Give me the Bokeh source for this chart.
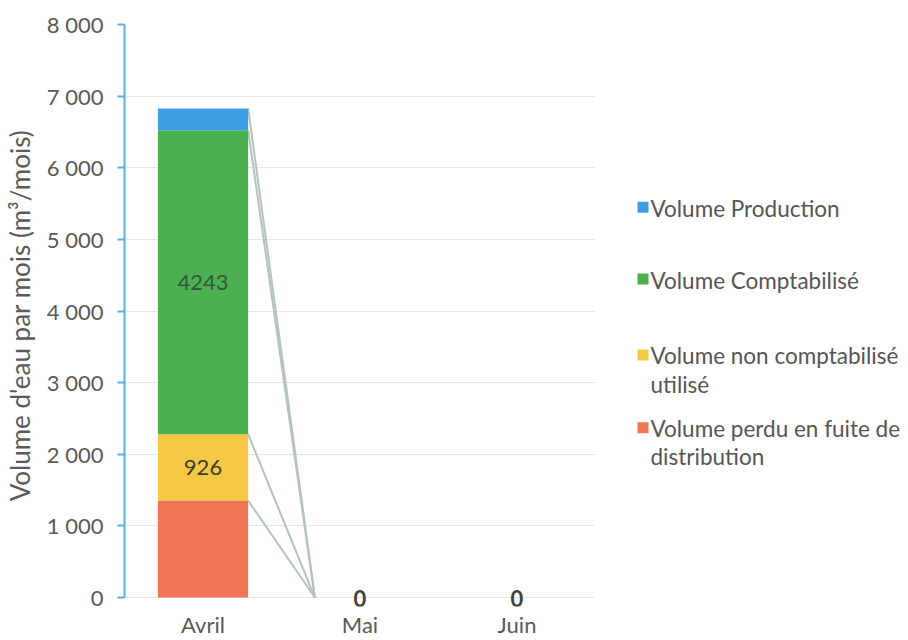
from bokeh.plotting import figure
from bokeh.models import ColumnDataSource, FactorRange, Range1d, FixedTicker, LabelSet
from bokeh.layouts import row
from bokeh.embed import file_html
from bokeh.resources import INLINE
from bokeh.core.properties import value

# ---------------- data ----------------
months = ["Avril", "Mai", "Juin"]
perdu = [1354, 0, 0]          # Volume perdu en fuite de distribution
non_compta = [926, 0, 0]      # Volume non comptabilisé utilisé
compta = [4243, 0, 0]         # Volume Comptabilisé
production = [306, 0, 0]      # Volume Production
series_keys = ["perdu", "non_compta", "compta", "production"]
series_names = ["Volume perdu en fuite de\ndistribution",
                "Volume non comptabilisé\nutilisé",
                "Volume Comptabilisé",
                "Volume Production"]
y_ticks = [0, 1000, 2000, 3000, 4000, 5000, 6000, 7000, 8000]
y_tick_labels = ["0", "1 000", "2 000", "3 000", "4 000", "5 000", "6 000", "7 000", "8 000"]
y_title = "Volume d'eau par mois (m³/mois)"

# ---------------- styles / layout ----------------
colors = ["#ef7556", "#f6c944", "#4caf50", "#3d9fe2"]
FONT = value("Lato")
TXT = "#595959"
BAR_W = 0.575
FRAME_TOP, FRAME_BOTTOM = 24, 607

data = {"month": months, "perdu": perdu, "non_compta": non_compta,
        "compta": compta, "production": production}
src = ColumnDataSource(data)

p = figure(x_range=FactorRange(*months), y_range=Range1d(-125, 8000),
           width=596, height=640, output_backend="svg", toolbar_location=None,
           min_border_left=122, min_border_right=1, min_border_top=FRAME_TOP,
           min_border_bottom=640 - FRAME_BOTTOM)
p.outline_line_color = None
p.background_fill_color = "white"
p.border_fill_color = "white"

# series lines (connect segment tops between consecutive months)
series_vals = [perdu, non_compta, compta, production]
x0, x1, y0, y1 = [], [], [], []
for i in range(len(months) - 1):
    cum_a = 0
    cum_b = 0
    for vals in series_vals:
        cum_a += vals[i]
        cum_b += vals[i + 1]
        if cum_a == 0 and cum_b == 0:
            continue
        x0.append((months[i], BAR_W / 2))
        x1.append((months[i + 1], -BAR_W / 2))
        y0.append(cum_a)
        y1.append(cum_b)
p.segment(x0=x0, y0=y0, x1=x1, y1=y1, line_color="#b4c4bc", line_width=2)

p.vbar_stack(series_keys, x="month", width=BAR_W, color=colors,
             line_color=None, source=src)

# value labels
lx, ly, lt, lc = [], [], [], []
zx, zy, zt = [], [], []
for i, m in enumerate(months):
    total = perdu[i] + non_compta[i] + compta[i] + production[i]
    if total == 0:
        zx.append(m); zy.append(0); zt.append("0")
        continue
    lx.append(m); ly.append(perdu[i] + non_compta[i] / 2)
    lt.append(str(non_compta[i])); lc.append("#3f3b2e")
    lx.append(m); ly.append(perdu[i] + non_compta[i] + compta[i] / 2)
    lt.append(str(compta[i])); lc.append("#35563e")
lab_src = ColumnDataSource(dict(x=lx, y=ly, text=lt, c=lc))
p.add_layout(LabelSet(x="x", y="y", text="text", source=lab_src,
                      text_align="center", text_baseline="middle",
                      text_font=FONT, text_font_size="22px", text_color="c"))
zero_src = ColumnDataSource(dict(x=zx, y=zy, text=zt))
p.add_layout(LabelSet(x="x", y="y", text="text", source=zero_src,
                      text_align="center", text_baseline="middle",
                      text_font=FONT, text_font_size="22px", text_color="#404040",
                      text_font_style="bold", y_offset=-1))

# axes
p.xgrid.grid_line_color = None
p.ygrid.grid_line_color = "#e3e7e8"
p.ygrid.ticker = FixedTicker(ticks=y_ticks)

p.yaxis.ticker = FixedTicker(ticks=y_ticks)
p.yaxis.bounds = (0, 8000)
p.yaxis.major_label_overrides = {t: l for t, l in zip(y_ticks, y_tick_labels)}
p.yaxis.axis_line_color = "#5aaee2"
p.yaxis.axis_line_width = 2
p.yaxis.major_tick_line_color = "#5aaee2"
p.yaxis.major_tick_line_width = 2
p.yaxis.major_tick_out = 7
p.yaxis.major_tick_in = 0
p.yaxis.minor_tick_line_color = None
p.yaxis.major_label_text_font = "Lato"
p.yaxis.major_label_text_font_size = "22px"
p.yaxis.major_label_text_color = TXT
p.yaxis.major_label_standoff = 14
p.yaxis.axis_label = y_title
p.yaxis.axis_label_text_font = "Lato"
p.yaxis.axis_label_text_font_size = "26px"
p.yaxis.axis_label_text_font_style = "normal"
p.yaxis.axis_label_text_color = "#5a5a5a"
p.yaxis.axis_label_standoff = 8

p.xaxis.axis_line_color = None
p.xaxis.major_tick_line_color = None
p.xaxis.minor_tick_line_color = None
p.xaxis.major_tick_out = 0
p.xaxis.major_tick_in = 0
p.xaxis.minor_tick_out = 0
p.xaxis.minor_tick_in = 0
p.xaxis.major_label_text_font = "Lato"
p.xaxis.major_label_text_font_size = "22px"
p.xaxis.major_label_text_color = TXT
p.xaxis.major_label_standoff = 4

# ---------------- legend panel ----------------
# its frame is aligned with the main plot's frame, so map y to screen pixels
leg = figure(width=312, height=640, x_range=Range1d(0, 312),
             y_range=Range1d(FRAME_BOTTOM, FRAME_TOP),
             output_backend="svg", toolbar_location=None,
             x_axis_type=None, y_axis_type=None,
             min_border_left=0, min_border_right=0,
             min_border_top=FRAME_TOP, min_border_bottom=640 - FRAME_BOTTOM)
leg.outline_line_color = None
leg.xgrid.grid_line_color = None
leg.ygrid.grid_line_color = None

order = [3, 2, 1, 0]  # top to bottom
leg_centers = [207, 279, 355, 428]
sq_x = [46.5] * 4
leg.scatter(x=sq_x, y=leg_centers, marker="square", size=11,
            color=[colors[i] for i in order], line_color=None)
leg.text(x=[54] * 4, y=[c - 12.5 for c in leg_centers],
         text=[series_names[i] for i in order],
         text_baseline="top", text_align="left", text_font=FONT,
         text_font_size="22.5px", text_color="#555555", text_line_height=1.04)

layout = row(p, leg)
open("out.html", "w").write(file_html(layout, INLINE))
